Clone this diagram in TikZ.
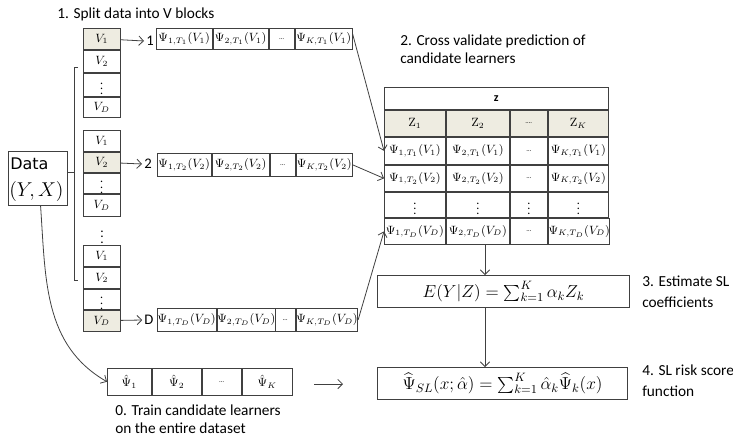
\RequirePackage{fix-cm}
\documentclass[tikz,border=0pt]{standalone}
\usepackage{amsmath}
\usepackage[no-math]{fontspec}
\setmainfont{Carlito}
\newfontfamily\dejavu{DejaVu Sans}
\usetikzlibrary{calc,arrows.meta}
\definecolor{lc}{HTML}{404040}
\definecolor{tanfill}{HTML}{EEECE1}
\newcommand\cel[6][]{\node[cell,minimum width=#4*0.75pt-1pt,minimum height=#5*0.75pt-1pt,#1] (#2) at (#3) {#6};}
\begin{document}
\begin{tikzpicture}[x=0.75pt,y=-0.75pt,
  cell/.style={draw=lc,line width=0.6pt,inner sep=0pt,anchor=north west,font=\fontsize{9}{10}\selectfont},
  tcell/.style={cell,line width=0.8pt},
  hl/.style={fill=tanfill},
  lab/.style={font=\fontsize{11}{12}\selectfont,inner sep=0pt},
  txt/.style={font=\fontsize{11.5}{13}\selectfont,inner sep=0pt,anchor=mid west},
  arr/.style={draw=lc,line width=0.6pt,-{Straight Barb[length=3.5pt,width=7pt]}},
  ln/.style={draw=lc,line width=0.6pt}]
\useasboundingbox (0,0) rectangle (733,436);

% step labels
\node[txt] (s1) at (57,15) {1. Split data into V blocks};
\node[txt] (s2a) at (400,42) {2. Cross validate prediction of};
\node[txt] (s2b) at (400,60) {candidate learners};
\node[txt] (s3a) at (642,283) {3. Estimate SL};
\node[txt] (s3b) at (642,304) {coefficients};
\node[txt] (s4a) at (642,372) {4. SL risk score};
\node[txt] (s4b) at (642,393) {function};
\node[txt] (s0a) at (115,412) {0. Train candidate learners};
\node[txt] (s0b) at (115,430) {on the entire dataset};

% data box
\node[draw=lc,line width=0.6pt,anchor=north west,minimum width=59*0.75pt,minimum height=54*0.75pt,inner sep=0pt] (data) at (8,151) {};
\node[inner sep=0pt,anchor=mid west,font=\dejavu\fontsize{12}{14}\selectfont] (dataT) at (10,166) {Data};
\node[inner sep=0pt,anchor=west,font=\fontsize{15}{16}\selectfont] (dataM) at (9,191) {$(Y,X)$};

% block 1
\cel[hl]{a1}{83,28}{38}{22}{$V_1$}
\cel{a2}{83,50}{38}{23}{$V_2$}
\cel{a3}{83,73}{38}{24}{$\vdots$}
\cel{a4}{83,97}{38}{21}{$V_D$}
% block 2
\cel{b1}{83,130}{38}{22}{$V_1$}
\cel[hl]{b2}{83,152}{38}{21}{$V_2$}
\cel{b3}{83,173}{38}{21}{$\vdots$}
\cel{b4}{83,194}{38}{23}{$V_D$}
\node[font=\fontsize{10}{11}\selectfont] (mid) at (102,233) {$\vdots$};
% block 3
\cel{c1}{83,245}{38}{22}{$V_1$}
\cel{c2}{83,267}{38}{22}{$V_2$}
\cel{c3}{83,289}{38}{21}{$\vdots$}
\cel[hl]{c4}{83,310}{38}{22}{$V_D$}

% bracket
\coordinate (bt) at (78,67);
\coordinate (bb) at (78,280);
\coordinate (bm) at (74,172);
\draw[ln] (bt) -- ++(-4,0) |- (bb);
\draw[ln] (data.east |- bm) -- (bm);

% row labels
\node[lab] (n1) at (150,41) {1};
\node[lab] (n2) at (148,164) {2};
\node[lab] (nD) at (149,320) {D};
\draw[arr] (a1) -- ([xshift=-1.5pt]n1.west);
\draw[arr] (b2) -- ([xshift=-1.5pt]n2.west);
\draw[arr] (c4) -- ([xshift=-1.5pt]nD.west);

% row tables
\cel{r1a}{156,28}{57}{22}{$\Psi_{1,T_1}(V_1)$}
\cel{r1b}{213,28}{56}{22}{$\Psi_{2,T_1}(V_1)$}
\cel{r1c}{269,28}{26}{22}{\tiny\ldots}
\cel{r1d}{295,28}{58}{22}{$\Psi_{K,T_1}(V_1)$}
\cel{r2a}{157,153}{55}{24}{$\Psi_{1,T_2}(V_2)$}
\cel{r2b}{212,153}{58}{24}{$\Psi_{2,T_2}(V_2)$}
\cel{r2c}{270,153}{26}{24}{\tiny\ldots}
\cel{r2d}{296,153}{57}{24}{$\Psi_{K,T_2}(V_2)$}
\cel{rDa}{157,308}{60}{24}{$\Psi_{1,T_D}(V_D)$}
\cel{rDb}{217,308}{58}{24}{$\Psi_{2,T_D}(V_D)$}
\cel{rDc}{275,308}{21}{24}{\tiny\ldots}
\cel{rDd}{296,308}{58}{24}{$\Psi_{K,T_D}(V_D)$}

% Z table
\cel[tcell]{zh}{384,87}{225}{23}{\textbf{z}}
\cel[tcell,hl]{z0a}{384,110}{62}{27}{$\mathrm{Z}_1$}
\cel[tcell,hl]{z0b}{446,110}{64}{27}{$\mathrm{Z}_2$}
\cel[tcell,hl]{z0c}{510,110}{38}{27}{\tiny\ldots.}
\cel[tcell,hl]{z0d}{548,110}{61}{27}{$\mathrm{Z}_K$}
\cel[tcell]{z1a}{384,137}{62}{28}{$\Psi_{1,T_1}(V_1)$}
\cel[tcell]{z1b}{446,137}{64}{28}{$\Psi_{2,T_1}(V_1)$}
\cel[tcell]{z1c}{510,137}{38}{28}{\tiny\ldots}
\cel[tcell]{z1d}{548,137}{61}{28}{$\Psi_{K,T_1}(V_1)$}
\cel[tcell]{z2a}{384,165}{62}{27}{$\Psi_{1,T_2}(V_2)$}
\cel[tcell]{z2b}{446,165}{64}{27}{$\Psi_{2,T_2}(V_2)$}
\cel[tcell]{z2c}{510,165}{38}{27}{\tiny\ldots}
\cel[tcell]{z2d}{548,165}{61}{27}{$\Psi_{K,T_2}(V_2)$}
\cel[tcell]{z3a}{384,192}{62}{26}{$\vdots$}
\cel[tcell]{z3b}{446,192}{64}{26}{$\vdots$}
\cel[tcell]{z3c}{510,192}{38}{26}{$\vdots$}
\cel[tcell]{z3d}{548,192}{61}{26}{$\vdots$}
\cel[tcell]{zDa}{384,218}{62}{27}{$\Psi_{1,T_D}(V_D)$}
\cel[tcell]{zDb}{446,218}{64}{27}{$\Psi_{2,T_D}(V_D)$}
\cel[tcell]{zDc}{510,218}{38}{27}{\tiny\ldots}
\cel[tcell]{zDd}{548,218}{61}{27}{$\Psi_{K,T_D}(V_D)$}

% arrows into Z
\draw[arr] ($(r1d.north east)!0.25!(r1d.south east)$) -- (z1a.west);
\draw[arr] (r2d.east) -- (z2a.west);
\draw[arr] (rDd.east) -- (zDa.west);

% SL boxes
\node[draw=lc,line width=0.8pt,anchor=north west,minimum width=252*0.75pt,minimum height=32*0.75pt,inner sep=0pt,font=\fontsize{13}{14}\selectfont] (E) at (377,275)
  {$E(Y|Z)=\sum_{k=1}^{K}\alpha_k Z_k$};
\node[draw=lc,line width=0.8pt,anchor=north west,minimum width=250*0.75pt,minimum height=32*0.75pt,inner sep=0pt,font=\fontsize{13}{14}\selectfont] (P) at (377,367)
  {$\widehat{\Psi}_{SL}(x;\hat{\alpha})=\sum_{k=1}^{K}\hat{\alpha}_k\widehat{\Psi}_k(x)$};
\coordinate (ax) at (485,0);
\draw[arr] (zDa.south -| ax) -- (E.north -| ax);
\draw[arr] (E.south -| ax) -- (P.north -| ax);

% train box
\cel{t1}{107,368}{45}{28}{$\hat{\Psi}_1$}
\cel{t2}{152,368}{50}{28}{$\hat{\Psi}_2$}
\cel{t3}{202,368}{40}{28}{\tiny\ldots}
\cel{t4}{242,368}{51}{28}{$\hat{\Psi}_K$}
\draw[arr] ([xshift=2pt]data.south) to[out=-86,in=150] (t1.west);
\coordinate (f1) at (314,384);
\coordinate (f2) at (343,384);
\draw[arr] (f1) -- (f2);
\end{tikzpicture}
\end{document}
